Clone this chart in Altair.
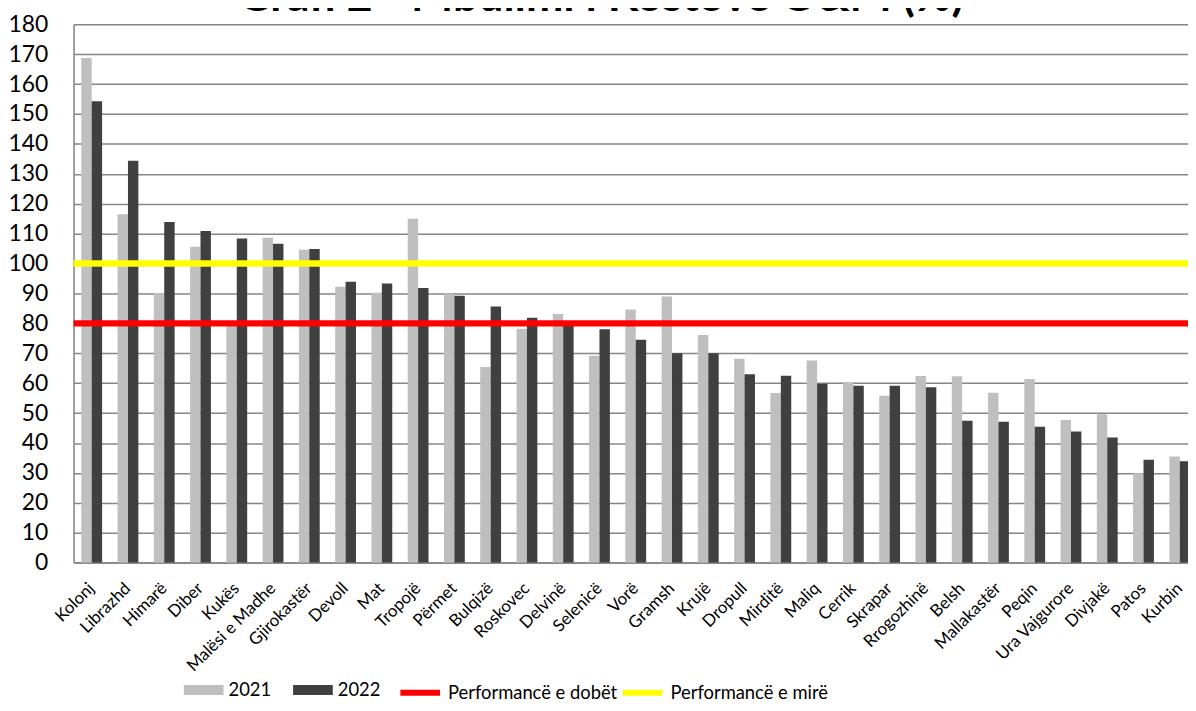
import altair as alt
import pandas as pd

categories = ["Kolonj", "Librazhd", "Himarë", "Diber", "Kukës", "Malësi e Madhe",
              "Gjirokastër", "Devoll", "Mat", "Tropojë", "Përmet", "Bulqizë",
              "Roskovec", "Delvinë", "Selenicë", "Vorë", "Gramsh", "Krujë",
              "Dropull", "Mirditë", "Maliq", "Cerrik", "Skrapar", "Rrogozhinë",
              "Belsh", "Mallakastër", "Peqin", "Ura Vajgurore", "Divjakë",
              "Patos", "Kurbin"]
values_2021 = [168.7, 116.5, 90.1, 105.6, 79.0, 108.6, 104.6, 92.2, 90.2, 115.0,
               89.9, 65.4, 78.2, 83.1, 69.2, 84.6, 89.0, 76.1, 68.2, 56.7,
               67.6, 60.3, 55.8, 62.4, 62.3, 56.8, 61.4, 47.7, 49.6, 29.9, 35.5]
values_2022 = [154.3, 134.4, 113.9, 110.9, 108.4, 106.6, 104.9, 93.9, 93.3, 91.8,
               89.2, 85.6, 81.9, 79.5, 78.0, 74.5, 70.0, 70.0, 63.0, 62.5,
               59.8, 59.1, 59.1, 58.6, 47.4, 47.1, 45.4, 43.8, 41.8, 34.4, 33.9]
years = ["2021", "2022"]
year_colors = ["#BFBFBF", "#404040"]
threshold_labels = ["Performancë e dobët", "Performancë e mirë"]
threshold_values = [80, 100]
threshold_colors = ["#FF0000", "#FFFF00"]
y_ticks = list(range(0, 181, 10))
title_text = "Grafi 2 - Mbulimi i Kostove O&M (%)"

FONT = "Lato"

rows = []
for c, a, b in zip(categories, values_2021, values_2022):
    rows.append({"cat": c, "year": years[0], "value": a})
    rows.append({"cat": c, "year": years[1], "value": b})
bars_df = pd.DataFrame(rows)
title_df = pd.DataFrame({"t": [title_text]})

y_scale = alt.Scale(domain=[0, 180], nice=False)
y_axis = alt.Axis(title=None, values=y_ticks, tickCount=19, labelFontSize=23, labelFont=FONT,
                  labelColor="#000000", ticks=False, labelPadding=26,
                  labelOverlap=False, grid=True,
                  gridColor="#868686", gridWidth=1.5,
                  domainColor="#868686", domainWidth=1.5)

x_enc = alt.X("cat:N", sort=categories,
              scale=alt.Scale(range=[0, 1132], paddingInner=0.426, paddingOuter=0.213),
              axis=alt.Axis(title=None, labelAngle=-45, labelFontSize=17, labelFont=FONT,
                            labelColor="#000000", ticks=False, labelPadding=23,
                            labelAlign="right", labelBaseline="middle",
                            domainColor="#868686", domainWidth=1.5, grid=False,
                            labelOverlap=False, labelLimit=300))

LEG_Y = 650
legend_common = dict(title=None, orient="none", legendY=LEG_Y, direction="horizontal",
                     labelFontSize=18.5, labelFont=FONT, labelColor="#000000",
                     labelOffset=5, labelLimit=300)

bars = alt.Chart(bars_df).mark_bar().encode(
    x=x_enc,
    xOffset=alt.XOffset("year:N", scale=alt.Scale(domain=years, paddingInner=0, paddingOuter=0)),
    y=alt.Y("value:Q", scale=y_scale, axis=y_axis),
    color=alt.Color("year:N", scale=alt.Scale(domain=years, range=year_colors),
                    legend=alt.Legend(legendX=111, symbolType="M-1,-0.25H1V0.25H-1Z",
                                      symbolSize=1600, symbolStrokeWidth=0,
                                      columnPadding=22, **legend_common)),
)

rule_layers = []
for i, (lab, val, col) in enumerate(zip(threshold_labels, threshold_values, threshold_colors)):
    df = pd.DataFrame({"label": [lab], "value": [val]})
    rule_layers.append(
        alt.Chart(df).mark_rule(strokeWidth=6.5).encode(
            y=alt.Y("value:Q", scale=y_scale, axis=y_axis),
            stroke=alt.Stroke("label:N", scale=alt.Scale(domain=[lab], range=[col]),
                              legend=alt.Legend(legendX=[326, 550][i], symbolType="stroke",
                                                symbolSize=1600, symbolStrokeWidth=6,
                                                **legend_common)),
        )
    )

title = alt.Chart(title_df).mark_text(fontSize=45, fontWeight="bold", font=FONT,
                                      align="center", baseline="alphabetic",
                                      color="#000000").encode(
    x=alt.value(531), y=alt.value(-13), text="t:N")

chart = alt.layer(bars, *rule_layers, title).resolve_scale(
    color="independent", stroke="independent").properties(
    width=1122, height=542,
    autosize=alt.AutoSizeParams(type="none"),
    padding={"left": 66, "top": 14, "right": 0, "bottom": 147},
).configure_view(strokeWidth=0).configure(background="#FFFFFF")

chart.save("out.html", embed_options={"renderer": "svg", "actions": False})
